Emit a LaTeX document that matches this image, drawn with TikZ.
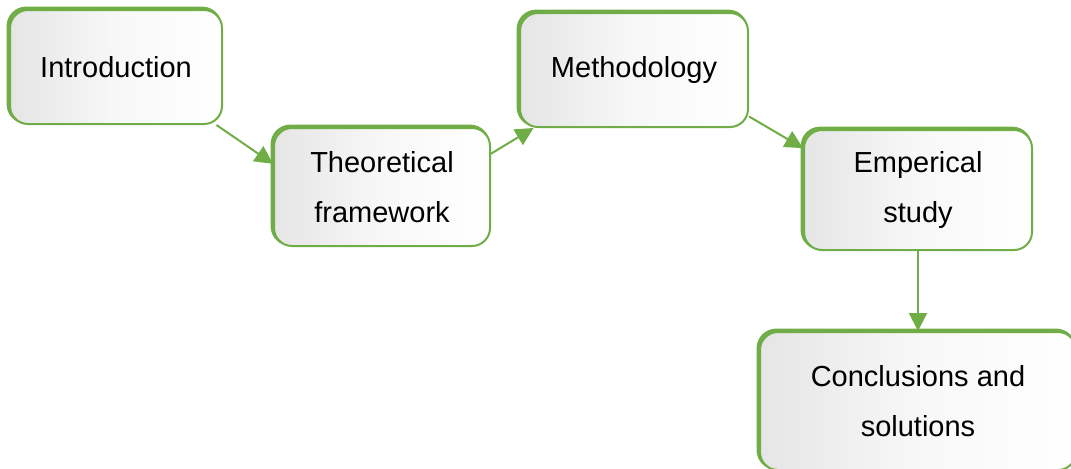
\documentclass[tikz,border=0pt]{standalone}
\usepackage{fontspec}
\setmainfont{Liberation Sans}
\usetikzlibrary{arrows.meta}
\definecolor{stepgreen}{HTML}{70AD47}
\tikzset{
  stage/.style={draw=stepgreen, line width=1pt, rounded corners=9pt,
    left color=gray!20, right color=white, middle color=gray!6,
    preaction={draw=stepgreen, line width=1.6pt,
      transform canvas={shift={(-0.9pt,0.9pt)}}},
    align=center, font=\fontsize{14.5}{25}\selectfont},
  flow/.style={draw=stepgreen, line width=1pt,
    -{Triangle[length=9pt,width=9pt]}}
}
\begin{document}
\begin{tikzpicture}[x=0.5pt,y=-0.5pt]
    \useasboundingbox (0,0) rectangle (1071,468);

    \node[stage, minimum width=106pt, minimum height=57pt] (intro) at (116,67) {Introduction};
    \node[stage, minimum width=108pt, minimum height=59pt] (theo) at (382,187) {Theoretical\\framework};
    \node[stage, minimum width=114pt, minimum height=57pt] (meth) at (634,70) {Methodology};
    \node[stage, minimum width=114pt, minimum height=60pt] (emp) at (918,190) {Emperical\\study};
    \node[stage, minimum width=158pt, minimum height=69pt] (concl) at (918,401) {Conclusions and\\solutions};

    \draw[flow] (intro.-30) -- (theo.168);
    \draw[flow] (theo.17) -- (meth.-150);
    \draw[flow] (meth.-22) -- (emp.160);
    \draw[flow] (emp.south) -- (concl.north);
\end{tikzpicture}
\end{document}
